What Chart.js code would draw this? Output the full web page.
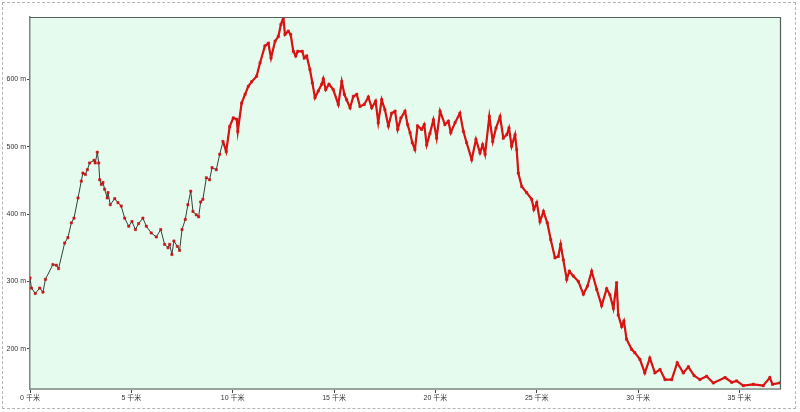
<!DOCTYPE html>
<html lang="zh">
<head>
    <meta charset="UTF-8">
    <title>海拔剖面</title>
    <script src="https://cdn.jsdelivr.net/npm/chart.js"></script>
    <style>
        body {
            margin: 0;
            background: #fff;
        }
        .wrap {
            position: relative;
            width: 800px;
            height: 412px;
        }
        .frame {
            position: absolute;
            left: 2px;
            top: 2px;
            width: 792px;
            height: 405px;
            border: 1px dashed #b4b4b4;
            pointer-events: none;
        }
        canvas {
            position: absolute;
            left: 0;
            top: 0;
        }
    </style>
</head>
<body>
<div class="wrap">
    <canvas id="profile" width="800" height="412"></canvas>
    <div class="frame"></div>
</div>

<script>
    // distance along the track (km) and elevation (m)
    const distKm = [
        0, 0.07, 0.26, 0.48, 0.64, 0.76, 1.13, 1.3, 1.41, 1.71, 1.87, 2.04, 2.17, 2.37, 2.53, 2.61, 2.73, 2.83, 2.94,
        3.16, 3.22, 3.32, 3.39, 3.44, 3.52, 3.6, 3.68, 3.81, 3.85, 3.96, 4.18, 4.34, 4.5, 4.67, 4.87, 5.03, 5.2, 5.36,
        5.57, 5.74, 5.98, 6.23, 6.45, 6.64, 6.81, 6.89, 7.0, 7.1, 7.27, 7.38, 7.5, 7.66, 7.79, 7.93, 8.04, 8.2, 8.32,
        8.42, 8.53, 8.7, 8.86, 8.98, 9.19, 9.36, 9.52, 9.68, 9.85, 10.03, 10.2, 10.25, 10.44, 10.61, 10.77, 10.94,
        11.18, 11.35, 11.59, 11.76, 11.89, 12.09, 12.25, 12.38, 12.5, 12.58, 12.74, 12.86, 12.99, 13.11, 13.21, 13.43,
        13.53, 13.65, 13.81, 13.93, 14.06, 14.22, 14.39, 14.47, 14.59, 14.75, 14.96, 15.21, 15.38, 15.51, 15.62, 15.79,
        15.95, 16.12, 16.28, 16.49, 16.69, 16.86, 17.05, 17.18, 17.35, 17.51, 17.68, 17.84, 18.01, 18.14, 18.3, 18.5,
        18.63, 18.75, 18.86, 18.99, 19.12, 19.32, 19.45, 19.57, 19.73, 19.9, 20.06, 20.23, 20.47, 20.64, 20.76, 20.97,
        21.21, 21.38, 21.54, 21.79, 22.0, 22.2, 22.33, 22.45, 22.66, 22.83, 22.99, 23.19, 23.35, 23.52, 23.63, 23.76,
        23.93, 24.01, 24.09, 24.26, 24.5, 24.75, 24.86, 25.0, 25.16, 25.33, 25.52, 25.69, 25.9, 26.06, 26.18, 26.31,
        26.48, 26.61, 26.8, 27.05, 27.3, 27.5, 27.71, 27.96, 28.2, 28.45, 28.61, 28.78, 28.94, 29.02, 29.19, 29.3,
        29.43, 29.68, 29.84, 30.09, 30.33, 30.58, 30.83, 31.08, 31.33, 31.66, 31.93, 32.23, 32.48, 32.76, 33.05, 33.38,
        33.71, 34.29, 34.62, 34.86, 35.19, 35.68, 36.17, 36.5, 36.63, 37.0
    ];
    const elevM = [
        305, 290, 282, 290, 284, 303, 325, 324, 319, 357, 365, 387, 394, 424, 449, 461, 459, 466, 476,
        480, 476, 492, 476, 451, 444, 447, 437, 424, 432, 414, 423, 417, 412, 394, 382, 389, 377, 386,
        394, 382, 372, 366, 377, 355, 350, 355, 340, 360, 352, 346, 377, 392, 414, 434, 404, 399, 396,
        418, 422, 454, 451, 469, 466, 489, 508, 493, 530, 543, 541, 523, 565, 578, 590, 597,
        605, 625, 650, 654, 632, 657, 664, 682, 692, 667, 672, 667, 642, 635, 642, 642,
        632, 635, 615, 595, 573, 583, 593, 601, 585, 593, 585, 563, 597, 578, 570, 558,
        575, 578, 560, 563, 574, 558, 568, 536, 570, 555, 531, 550, 553, 526, 543, 553,
        533, 521, 506, 496, 531, 526, 533, 503, 520, 540, 513, 553, 533, 538, 521, 536,
        550, 523, 506, 481, 511, 491, 503, 489, 545, 508, 528, 545, 513, 518, 528, 501,
        518, 496, 461, 441, 432, 422, 407, 417, 389, 404, 387, 362, 335, 337, 355, 332,
        303, 315, 308, 300, 281, 293, 315, 288, 264, 289, 280, 260, 298, 250, 233, 241,
        214, 199, 194, 184, 164, 186, 164, 169, 154, 154, 179, 164, 173, 160, 154, 159,
        149, 157, 150, 152, 145, 147, 145, 157, 147, 149
    ];
    const xTicks = [0, 5, 10, 15, 20, 25, 30, 35];
    const yTicks = [200, 300, 400, 500, 600];

    const points = distKm.map((d, i) => ({ x: d, y: elevM[i] }));

    const RED = '#da1212';
    const DARK = '#34423c';
    const DENSE_FROM = 9.45; // from here the track is drawn thick red

    const tickFont = { family: "'Liberation Sans', 'Noto Sans CJK SC', sans-serif", size: 7 };

    // plot background and top/right frame
    const plotFrame = {
        id: 'plotFrame',
        beforeDraw(chart) {
            const { ctx, chartArea: a } = chart;
            ctx.save();
            ctx.fillStyle = '#e5fbee';
            ctx.fillRect(a.left, a.top, a.right - a.left, a.bottom - a.top);
            ctx.restore();
        },
        afterDraw(chart) {
            const { ctx, chartArea: a } = chart;
            ctx.save();
            ctx.strokeStyle = '#56605b';
            ctx.lineWidth = 1.2;
            ctx.beginPath();
            ctx.moveTo(a.left, a.top + 0.5);
            ctx.lineTo(a.right + 0.5, a.top + 0.5);
            ctx.lineTo(a.right + 0.5, a.bottom);
            ctx.stroke();
            ctx.restore();
        }
    };

    new Chart(document.getElementById('profile'), {
        type: 'line',
        data: {
            datasets: [
                {
                    data: points,
                    borderColor: RED,
                    borderWidth: 2.2,
                    pointRadius: 0,
                    segment: {
                        borderColor: c => c.p0.parsed.x < DENSE_FROM ? 'rgba(0,0,0,0)' : RED
                    }
                },
                {
                    data: points,
                    borderColor: DARK,
                    borderWidth: 1,
                    pointStyle: 'rect',
                    pointRadius: 1.6,
                    pointBackgroundColor: RED,
                    pointBorderColor: '#b01010',
                    pointBorderWidth: 0.5
                }
            ]
        },
        options: {
            responsive: false,
            animation: false,
            devicePixelRatio: 1,
            layout: { padding: { top: 17, right: 20, left: 0, bottom: 0 } },
            plugins: {
                legend: { display: false },
                tooltip: { enabled: false }
            },
            scales: {
                x: {
                    type: 'linear',
                    min: 0,
                    max: 37,
                    afterBuildTicks: s => { s.ticks = xTicks.map(v => ({ value: v })); },
                    afterFit: s => { s.height = 23; },
                    grid: { drawOnChartArea: false, tickLength: 4, color: '#444' },
                    border: { display: true, color: '#9aa39e', width: 2 },
                    ticks: {
                        font: tickFont,
                        color: '#333',
                        padding: 1,
                        maxRotation: 0,
                        callback: v => v + ' 千米'
                    }
                },
                y: {
                    min: 140,
                    max: 693,
                    afterBuildTicks: s => { s.ticks = yTicks.map(v => ({ value: v })); },
                    afterFit: s => { s.width = 30; },
                    grid: { drawOnChartArea: false, tickLength: 3, color: '#444' },
                    border: { display: true, color: '#7d8782', width: 1.5 },
                    ticks: {
                        font: tickFont,
                        color: '#333',
                        padding: 1,
                        callback: v => v + ' m'
                    }
                }
            }
        },
        plugins: [plotFrame]
    });
</script>
</body>
</html>
